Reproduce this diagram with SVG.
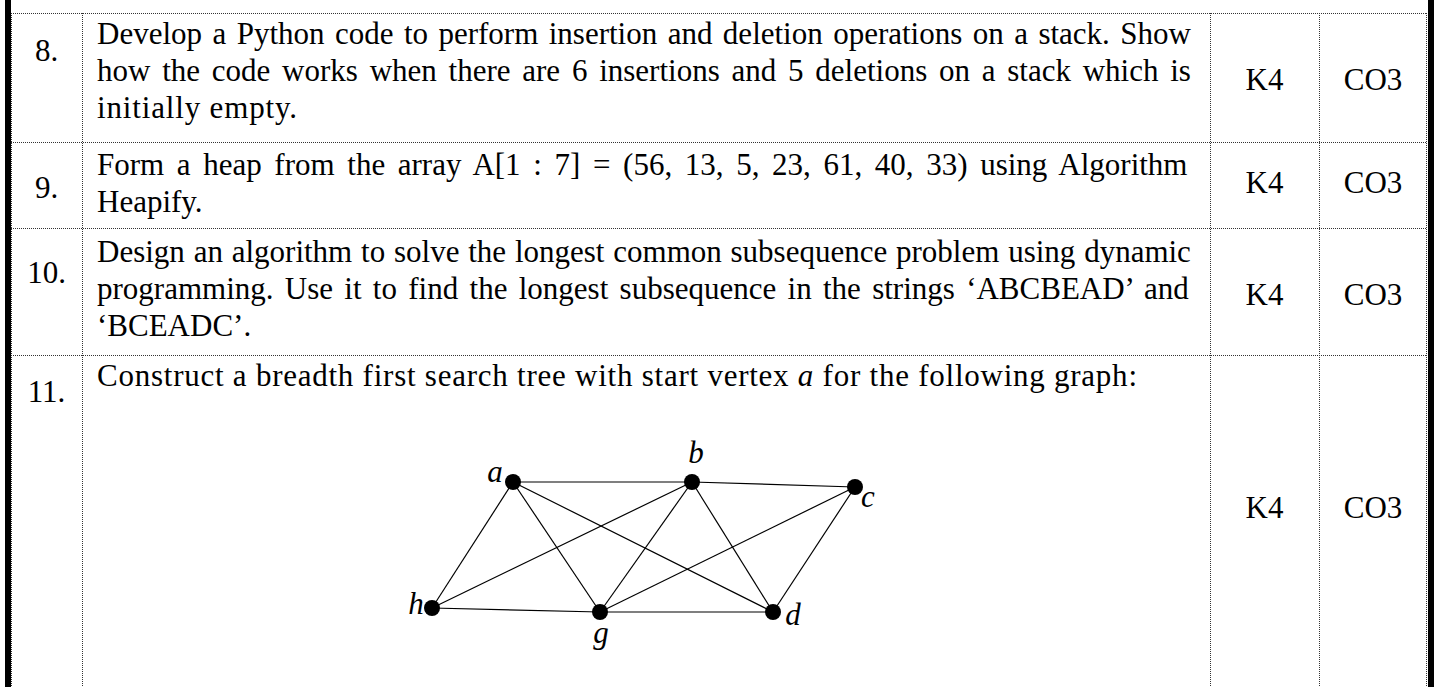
<svg xmlns="http://www.w3.org/2000/svg" width="1437" height="687" viewBox="0 0 1437 687">
<style>
.t{font-family:"Liberation Serif","Times New Roman",serif;font-size:31px;fill:#000}
.c{text-anchor:middle}
.i{font-style:italic}
.grid{stroke:#333;stroke-width:1;stroke-dasharray:1 1;fill:none}
.e{stroke:#000;stroke-width:1.2}
.v{fill:#000}
</style>
<rect width="1437" height="687" fill="#fff"/>
<g id="table">
<rect x="5" y="0" width="6" height="687" fill="#000"/>
<rect x="1428" y="0" width="6" height="687" fill="#000"/>
<path class="grid" d="M11 13.5H1427M11 142.5H1427M11 228.5H1427M11 355.5H1427M11.5 13V687M82.5 13V687M1210.5 13V687M1319.5 13V687M1426.5 13V687"/>
</g>
<g id="row8">
<text class="t c" x="46.5" y="61">8.</text>
<text class="t" x="97" y="44" word-spacing="2.69">Develop a Python code to perform insertion and deletion operations on a stack. Show</text>
<text class="t" x="97" y="81" word-spacing="4.02">how the code works when there are 6 insertions and 5 deletions on a stack which is</text>
<text class="t" x="97" y="118" textLength="200" lengthAdjust="spacing">initially empty.</text>
<text class="t c" x="1264.5" y="90">K4</text>
<text class="t c" x="1373" y="90">CO3</text>
</g>
<g id="row9">
<text class="t c" x="46.5" y="198">9.</text>
<text class="t" x="97" y="175" word-spacing="4.89">Form a heap from the array A[1 : 7] = (56, 13, 5, 23, 61, 40, 33) using Algorithm</text>
<text class="t" x="97" y="212">Heapify.</text>
<text class="t c" x="1264.5" y="193">K4</text>
<text class="t c" x="1373" y="193">CO3</text>
</g>
<g id="row10">
<text class="t c" x="46.5" y="283">10.</text>
<text class="t" x="97" y="262" word-spacing="1.06">Design an algorithm to solve the longest common subsequence problem using dynamic</text>
<text class="t" x="97" y="299" word-spacing="3.56">programming. Use it to find the longest subsequence in the strings ‘ABCBEAD’ and</text>
<text class="t" x="97" y="336">‘BCEADC’.</text>
<text class="t c" x="1264.5" y="305">K4</text>
<text class="t c" x="1373" y="305">CO3</text>
</g>
<g id="row11">
<text class="t c" x="46.5" y="402">11.</text>
<text class="t" x="97" y="386" textLength="1040" lengthAdjust="spacing">Construct a breadth first search tree with start vertex <tspan class="i">a</tspan> for the following graph:</text>
<text class="t c" x="1264.5" y="518">K4</text>
<text class="t c" x="1373" y="518">CO3</text>
</g>
<g id="connectors">
<line class="e" x1="513" y1="482" x2="692" y2="482"/>
<line class="e" x1="692" y1="482" x2="855" y2="487"/>
<line class="e" x1="513" y1="482" x2="432" y2="608"/>
<line class="e" x1="513" y1="482" x2="600" y2="612"/>
<line class="e" x1="513" y1="482" x2="773" y2="612"/>
<line class="e" x1="692" y1="482" x2="432" y2="608"/>
<line class="e" x1="692" y1="482" x2="600" y2="612"/>
<line class="e" x1="692" y1="482" x2="773" y2="612"/>
<line class="e" x1="855" y1="487" x2="600" y2="612"/>
<line class="e" x1="855" y1="487" x2="773" y2="612"/>
<line class="e" x1="432" y1="608" x2="600" y2="612"/>
<line class="e" x1="600" y1="612" x2="773" y2="612"/>
</g>
<g id="node-a"><circle class="v" cx="513" cy="482" r="8"/><text class="t i c" x="495" y="482">a</text></g>
<g id="node-b"><circle class="v" cx="692" cy="482" r="8"/><text class="t i c" x="696" y="463">b</text></g>
<g id="node-c"><circle class="v" cx="855" cy="487" r="8"/><text class="t i c" x="868" y="507">c</text></g>
<g id="node-h"><circle class="v" cx="432" cy="608" r="8"/><text class="t i c" x="416" y="614">h</text></g>
<g id="node-g"><circle class="v" cx="600" cy="612" r="8"/><text class="t i c" x="601" y="643">g</text></g>
<g id="node-d"><circle class="v" cx="773" cy="612" r="8"/><text class="t i c" x="793" y="625">d</text></g>
</svg>
